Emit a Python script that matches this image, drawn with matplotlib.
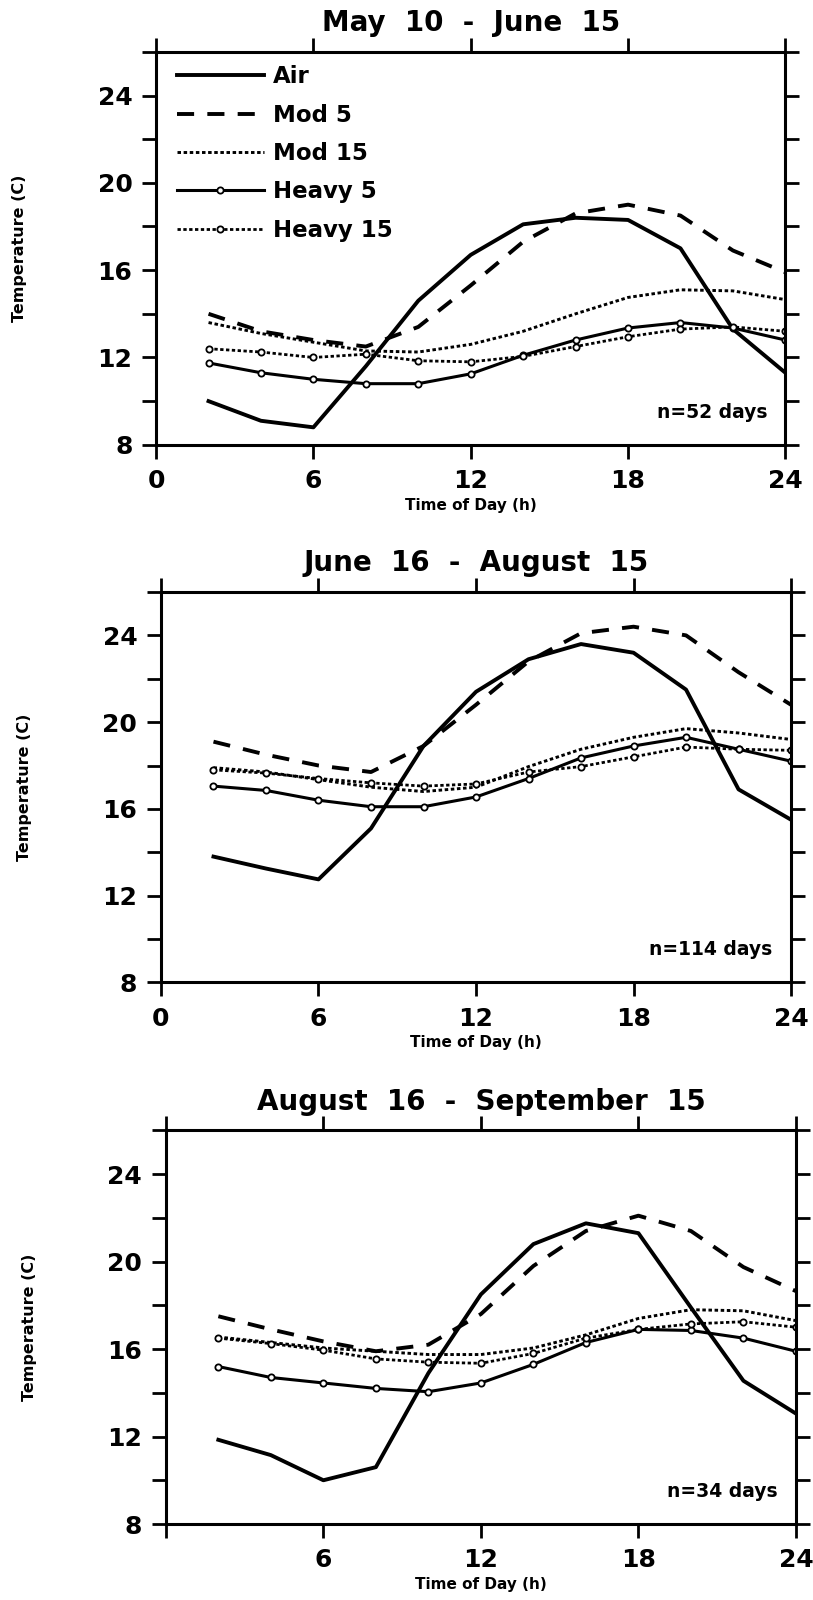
import numpy as np
import matplotlib.pyplot as plt

plt.rcParams['font.family'] = ['DejaVu Sans']
plt.rcParams['font.weight'] = 'bold'

hours = [2, 4, 6, 8, 10, 12, 14, 16, 18, 20, 22, 24]
series_names = ["Air", "Mod 5", "Mod 15", "Heavy 5", "Heavy 15"]
titles = ["May  10  -  June  15", "June  16  -  August  15", "August  16  -  September  15"]
notes = ["n=52 days", "n=114 days", "n=34 days"]

# May 10 - June 15
air_1 = [10.0, 9.1, 8.8, 11.6, 14.6, 16.7, 18.1, 18.4, 18.3, 17.0, 13.3, 11.3]
mod5_1 = [14.0, 13.2, 12.8, 12.5, 13.4, 15.3, 17.3, 18.6, 19.0, 18.5, 16.9, 15.9]
mod15_1 = [13.6, 13.1, 12.7, 12.3, 12.25, 12.6, 13.2, 14.0, 14.75, 15.1, 15.05, 14.65]
heavy5_1 = [11.75, 11.3, 11.0, 10.8, 10.8, 11.25, 12.1, 12.8, 13.35, 13.6, 13.35, 12.8]
heavy15_1 = [12.4, 12.25, 12.0, 12.15, 11.85, 11.8, 12.05, 12.5, 12.95, 13.3, 13.4, 13.2]

# June 16 - August 15
air_2 = [13.8, 13.25, 12.75, 15.1, 18.9, 21.4, 22.9, 23.6, 23.2, 21.5, 16.9, 15.5]
mod5_2 = [19.1, 18.5, 18.0, 17.7, 18.9, 20.8, 22.8, 24.1, 24.4, 24.0, 22.3, 20.8]
mod15_2 = [17.9, 17.7, 17.35, 17.0, 16.8, 17.0, 17.95, 18.75, 19.3, 19.7, 19.5, 19.2]
heavy5_2 = [17.05, 16.85, 16.4, 16.1, 16.1, 16.55, 17.4, 18.35, 18.9, 19.3, 18.75, 18.2]
heavy15_2 = [17.8, 17.65, 17.4, 17.2, 17.05, 17.15, 17.7, 17.95, 18.4, 18.85, 18.75, 18.7]

# August 16 - September 15
air_3 = [11.85, 11.15, 10.0, 10.6, 14.9, 18.5, 20.8, 21.75, 21.3, 17.9, 14.55, 13.05]
mod5_3 = [17.5, 16.9, 16.35, 15.9, 16.2, 17.6, 19.8, 21.4, 22.1, 21.4, 19.75, 18.65]
mod15_3 = [16.55, 16.3, 16.05, 15.9, 15.75, 15.75, 16.05, 16.65, 17.4, 17.8, 17.75, 17.3]
heavy5_3 = [15.2, 14.7, 14.45, 14.2, 14.05, 14.45, 15.3, 16.3, 16.9, 16.85, 16.5, 15.9]
heavy15_3 = [16.5, 16.25, 15.95, 15.55, 15.4, 15.35, 15.8, 16.5, 16.9, 17.15, 17.25, 17.0]

panels = [
    [air_1, mod5_1, mod15_1, heavy5_1, heavy15_1],
    [air_2, mod5_2, mod15_2, heavy5_2, heavy15_2],
    [air_3, mod5_3, mod15_3, heavy5_3, heavy15_3],
]

# axes boxes in figure fractions (left, bottom, width, height)
boxes = [
    [0.192, 0.722, 0.774, 0.2456],
    [0.198, 0.386, 0.775, 0.244],
    [0.204, 0.0475, 0.775, 0.246],
]


def draw_panel(ax, data, title, note, xlabels):
    air, mod5, mod15, heavy5, heavy15 = data
    ax.plot(hours, air, color='black', lw=2.8, label=series_names[0])
    ax.plot(hours, mod5, color='black', lw=2.8, dashes=(4.4, 3.4), label=series_names[1])
    ax.plot(hours, mod15, color='black', lw=2.1, dashes=(1.2, 0.9), label=series_names[2])
    ax.plot(hours, heavy5, color='black', lw=2.2, marker='o', ms=4.5,
            mfc='white', mec='black', mew=1.3, label=series_names[3])
    ax.plot(hours, heavy15, color='black', lw=2.0, dashes=(1.2, 0.9), marker='o', ms=4.5,
            mfc='white', mec='black', mew=1.3, label=series_names[4])

    ax.set_xlim(0, 24)
    ax.set_ylim(8, 26)
    ax.set_xticks([0, 6, 12, 18, 24])
    ax.set_xticklabels(xlabels)
    ax.set_yticks(np.arange(8, 27, 2))
    ax.set_yticklabels(['8', '', '12', '', '16', '', '20', '', '24', ''])
    ax.tick_params(direction='out', top=True, right=True, length=10, width=2.0,
                   labelsize=18)
    ax.tick_params(axis='x', pad=7.5)
    ax.tick_params(axis='y', pad=7)
    for s in ax.spines.values():
        s.set_linewidth(2.2)

    ax.text(0.5, 1.053, title, transform=ax.transAxes, ha='center', va='baseline',
            fontsize=20, fontweight='bold')
    ax.text(23.3, 9.5, note, ha='right', va='center', fontsize=13.5, fontweight='bold')

    ax.set_xlabel("Time of Day (h)", fontsize=11, fontweight='bold')
    ax.set_ylabel("Temperature (C)", fontsize=11.5, fontweight='bold')
    ax.xaxis.set_label_coords(0.5, -0.135)
    ax.yaxis.set_label_coords(-0.205, 0.5)


fig = plt.figure(figsize=(8.13, 16), dpi=100)

for i in range(3):
    ax = fig.add_axes(boxes[i])
    if i == 2:
        xlabels = ['', '6', '12', '18', '24']
    else:
        xlabels = ['0', '6', '12', '18', '24']
    draw_panel(ax, panels[i], titles[i], notes[i], xlabels)
    if i == 0:
        ax.legend(loc='upper left', bbox_to_anchor=(0.018, 0.989), frameon=False,
                  fontsize=16.5, handlelength=3.8, handletextpad=0.4,
                  labelspacing=0.67, borderaxespad=0.0)

fig.savefig("out.png", dpi=100)
